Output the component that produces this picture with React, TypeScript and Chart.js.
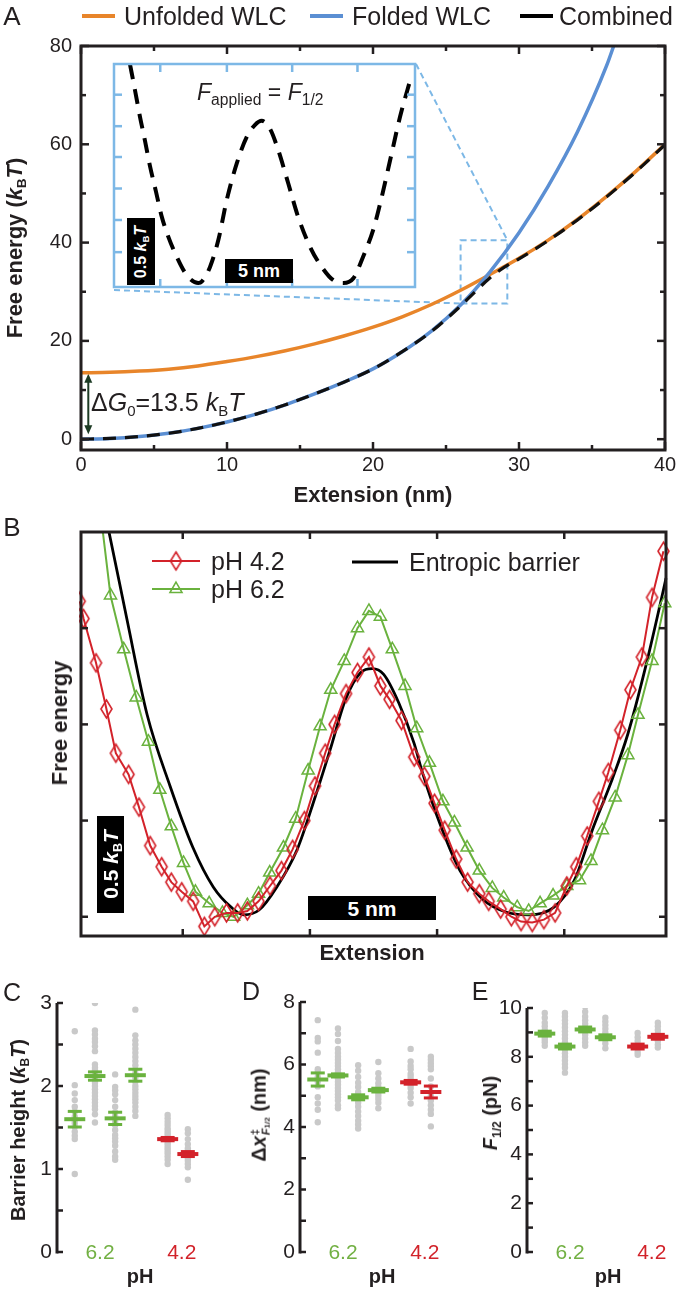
import React, { useEffect, useRef } from "react";
import { Chart, registerables } from "chart.js";
Chart.register(...registerables);

const FONT = "'Liberation Sans', Arial, Helvetica, sans-serif";
const INK = "#231f20";
const ORANGE = "#E8852A";
const BLUE = "#5B8FD3";
const LIGHTBLUE = "#7DB8E6";
const GREEN = "#6AB23E";
const RED = "#D3222A";
const GREEN_TXT = "#72B043";
const RED_TXT = "#D2232A";
const GREY = "#C9C9C9";

// ---------------- Panel A data ----------------
const foldedExt = [0, 2, 4, 6, 8, 10, 12, 14, 16, 18, 20, 22, 24, 26, 28, 30, 32, 34, 36, 36.6];
const foldedG = [0, 0.15, 0.55, 1.2, 2.2, 3.5, 5.1, 7.0, 9.2, 11.6, 14.3, 17.8, 22.0, 27.3, 34.0, 42.0, 51.5, 62.5, 76.0, 81.0];
const unfoldedExt = [0, 2, 4, 6, 8, 10, 12, 14, 16, 18, 20, 22, 24, 26, 28, 30, 32, 34, 36, 38, 40];
const unfoldedG = [13.5, 13.6, 13.85, 14.25, 14.9, 15.8, 16.8, 18.0, 19.4, 21.0, 22.8, 24.9, 27.4, 30.3, 33.5, 36.8, 40.5, 44.7, 49.4, 54.5, 60.0];
const combinedExt = [0, 2, 4, 6, 8, 10, 12, 14, 16, 18, 20, 22, 24, 26, 27, 28, 29, 30, 32, 34, 36, 38, 40];
const combinedG = [0, 0.15, 0.55, 1.2, 2.2, 3.5, 5.1, 7.0, 9.2, 11.6, 14.3, 17.8, 21.9, 27.1, 30.0, 32.8, 35.0, 36.7, 40.4, 44.6, 49.3, 54.4, 59.9];
const aXTicks = [0, 10, 20, 30, 40];
const aXMinor = [5, 15, 25, 35];
const aYTicks = [0, 20, 40, 60, 80];
const aYMinor = [10, 30, 50, 70];
const deltaG0 = 13.5;
const zoomBoxExt = [26, 29.2];
const zoomBoxG = [27.6, 40.5];

// inset (F_applied = F_1/2)
const insetExt = [1.18, 1.54, 1.91, 2.28, 2.65, 3.09, 3.51, 3.99, 4.61, 5.34, 6.2, 6.45, 7.06, 7.67, 8.29, 9.02, 9.76, 10.37, 10.86, 11.47, 12.08, 12.82, 13.55, 14.41, 15.27, 16.13, 16.86, 17.6, 18.33, 19.07, 19.68, 20.42, 21.03, 21.85];
const insetG = [1.66, 1.47, 1.27, 1.09, 0.9, 0.71, 0.525, 0.376, 0.226, 0.09, 0.03, 0.04, 0.15, 0.35, 0.65, 0.92, 1.12, 1.21, 1.24, 1.18, 1.02, 0.77, 0.52, 0.3, 0.15, 0.05, 0.03, 0.065, 0.23, 0.43, 0.67, 1.0, 1.27, 1.57];
const insetXTicks = [3.4, 8.3, 13.1, 17.9];
const insetYTicks = [0.26, 0.5, 0.735, 0.97, 1.2, 1.435];

// ---------------- Panel B data ----------------
const barrierExt = [2.0, 2.1, 2.8, 3.6, 4.5, 5.4, 6.2, 6.9, 7.4, 8.0, 8.7, 9.5, 10.2, 10.8, 11.4, 12.0, 12.45, 12.9, 13.5, 14.1, 14.4, 15.15, 15.9, 16.8, 17.7, 18.6, 19.6, 20.4, 21.1, 21.9, 22.5, 23.2, 23.9, 24.0];
const barrierG = [2.06, 2.0, 1.55, 1.05, 0.68, 0.36, 0.155, 0.05, 0.01, 0.035, 0.155, 0.35, 0.62, 0.87, 1.13, 1.27, 1.29, 1.26, 1.11, 0.9, 0.76, 0.47, 0.24, 0.09, 0.025, 0.01, 0.05, 0.19, 0.45, 0.72, 0.95, 1.3, 1.7, 1.76];
const ph62Ext = [1.75, 2.16, 2.68, 3.17, 3.65, 4.1, 4.55, 5.03, 5.5, 6.04, 6.56, 7.0, 7.54, 7.98, 8.42, 8.96, 9.44, 9.93, 10.4, 10.82, 11.35, 11.87, 12.32, 12.77, 13.24, 13.74, 14.2, 14.7, 15.23, 15.68, 16.18, 16.66, 17.17, 17.62, 18.15, 18.6, 19.05, 19.56, 20.1, 20.6, 21.05, 21.5, 22.0, 22.5, 22.9, 23.45, 23.95];
const ph62G = [2.12, 1.67, 1.39, 1.14, 0.91, 0.66, 0.47, 0.28, 0.13, 0.07, 0.02, 0.0, 0.06, 0.12, 0.23, 0.36, 0.51, 0.76, 0.99, 1.18, 1.33, 1.5, 1.59, 1.56, 1.39, 1.2, 0.98, 0.8, 0.6, 0.49, 0.36, 0.24, 0.15, 0.1, 0.05, 0.03, 0.07, 0.11, 0.16, 0.19, 0.29, 0.45, 0.62, 0.84, 1.05, 1.33, 1.63];
const ph42Ext = [0.95, 1.1, 1.59, 2.0, 2.37, 2.87, 3.28, 3.72, 4.17, 4.55, 4.96, 5.41, 5.85, 6.26, 6.72, 7.16, 7.54, 7.98, 8.43, 8.88, 9.32, 9.78, 10.2, 10.6, 10.97, 11.42, 11.87, 12.32, 12.77, 13.13, 13.6, 14.1, 14.5, 14.9, 15.3, 15.75, 16.2, 16.66, 17.03, 17.5, 17.92, 18.3, 18.74, 19.2, 19.64, 20.1, 20.47, 20.9, 21.36, 21.73, 22.2, 22.6, 23.05, 23.45, 23.9];
const ph42G = [1.64, 1.55, 1.32, 1.08, 0.85, 0.74, 0.57, 0.37, 0.26, 0.18, 0.13, 0.08, -0.05, 0.0, 0.02, 0.02, 0.03, 0.08, 0.16, 0.24, 0.35, 0.5, 0.68, 0.85, 1.0, 1.16, 1.27, 1.35, 1.2, 1.13, 1.02, 0.83, 0.73, 0.59, 0.45, 0.3, 0.18, 0.12, 0.08, 0.04, 0.0, -0.025, -0.03, -0.015, 0.02, 0.16, 0.26, 0.42, 0.6, 0.75, 0.97, 1.18, 1.35, 1.66, 1.9];
const bXTicks = [5, 10, 15, 20];
const bYTicks = [0, 0.5, 1.0, 1.5];

// ---------------- Panels C, D, E data ----------------
const groupX = [1, 2, 3, 4, 5.6, 6.6];
const groupPH = ["6.2", "6.2", "6.2", "6.2", "4.2", "4.2"];
const pHLabels = ["6.2", "4.2"];
const pHLabelX = [2.25, 6.3];

const cMeans = [1.6, 2.12, 1.61, 2.13, 1.36, 1.18];
const cSems = [0.094, 0.05, 0.074, 0.072, 0.02, 0.03];
const cDots = [
  [2.66, 2.01, 1.91, 1.83, 1.75, 1.69, 1.63, 1.58, 1.55, 1.51, 1.45, 1.4, 1.36, 0.94],
  [3.0, 2.67, 2.62, 2.57, 2.53, 2.48, 2.42, 2.26, 2.22, 2.19, 2.16, 2.12, 2.08, 2.04, 2.0, 1.96, 1.92, 1.88, 1.84, 1.8, 1.76, 1.72, 1.66, 1.56],
  [2.14, 1.99, 1.95, 1.9, 1.83, 1.75, 1.68, 1.64, 1.57, 1.53, 1.47, 1.41, 1.37, 1.33, 1.28, 1.21, 1.15, 1.11],
  [2.92, 2.61, 2.55, 2.5, 2.45, 2.4, 2.35, 2.3, 2.25, 2.2, 2.15, 2.1, 2.05, 2.0, 1.96, 1.92, 1.88, 1.84, 1.8, 1.75, 1.7, 1.64],
  [1.65, 1.61, 1.57, 1.53, 1.49, 1.46, 1.43, 1.4, 1.37, 1.34, 1.31, 1.28, 1.25, 1.22, 1.19, 1.15, 1.11, 1.06],
  [1.48, 1.43, 1.36, 1.3, 1.25, 1.22, 1.19, 1.16, 1.13, 1.1, 1.06, 1.02, 0.87],
];
const cYTicks = [0, 1, 2, 3];
const cYMinor = [0.5, 1.5, 2.5];
const cRef = [1.29, 1.29];

const dMeans = [5.52, 5.65, 4.95, 5.18, 5.43, 5.12];
const dSems = [0.21, 0.05, 0.08, 0.06, 0.06, 0.19];
const dDots = [
  [7.42, 6.85, 6.74, 6.38, 5.85, 5.75, 5.6, 5.45, 5.3, 4.95, 4.75, 4.55, 4.15],
  [7.15, 6.98, 6.75, 6.5, 6.37, 6.25, 6.15, 6.05, 5.95, 5.85, 5.75, 5.55, 5.45, 5.35, 5.25, 5.15, 5.05, 4.95, 4.85, 4.7, 4.6],
  [5.98, 5.8, 5.6, 5.42, 5.28, 5.12, 5.0, 4.9, 4.78, 4.65, 4.5, 4.35, 4.2, 4.08, 3.95],
  [6.08, 5.72, 5.55, 5.4, 5.28, 5.1, 5.0, 4.9, 4.78, 4.6],
  [6.5, 6.1, 5.95, 5.85, 5.7, 5.6, 5.5, 5.35, 5.25, 5.1, 4.95, 4.75],
  [6.25, 6.15, 6.05, 5.95, 5.85, 5.55, 5.3, 5.0, 4.85, 4.7, 4.55, 4.42, 4.02],
];
const dYTicks = [0, 2, 4, 6, 8];
const dYMinor = [1, 3, 5, 7];
const dRef = [2.0, 3.5];

const eMeans = [8.95, 8.42, 9.12, 8.8, 8.42, 8.82];
const eSems = [0.1, 0.1, 0.1, 0.1, 0.1, 0.1];
const eDots = [
  [9.8, 9.6, 9.4, 9.25, 9.1, 9.0, 8.9, 8.8, 8.7, 8.6, 8.45],
  [9.8, 9.65, 9.5, 9.35, 9.2, 9.05, 8.9, 8.75, 8.6, 8.45, 8.3, 8.15, 8.0, 7.85, 7.7, 7.55, 7.35],
  [10.3, 10.05, 9.85, 9.65, 9.5, 9.35, 9.2, 9.05, 8.9, 8.75, 8.6, 8.45],
  [9.6, 9.45, 9.3, 9.15, 9.0, 8.85, 8.7, 8.55, 8.35],
  [8.98, 8.8, 8.65, 8.5, 8.35, 8.2, 8.08],
  [9.4, 9.25, 9.1, 8.95, 8.8, 8.65, 8.5, 8.38],
];
const eYTicks = [0, 2, 4, 6, 8, 10];
const eYMinor = [1, 3, 5, 7, 9];
const eRef = [7.6, 7.6];

// ---------------- helpers ----------------
const pts = (xs: number[], ys: number[]) => xs.map((x, i) => ({ x, y: ys[i] }));
const fitW = (w: number) => (s: any) => { s.width = w; s.paddingTop = 0; s.paddingBottom = 0; };
const fitH = (h: number) => (s: any) => { s.height = h; s.paddingLeft = 0; s.paddingRight = 0; };
const setTicks = (vals: number[]) => (s: any) => { s.ticks = vals.map((v) => ({ value: v })); };

const frameTicks = {
  id: "frameTicks",
  afterDraw(chart: any, _a: any, o: any) {
    const { ctx, chartArea: a, scales } = chart;
    ctx.save();
    ctx.setLineDash([]);
    ctx.lineCap = "butt";
    (o.marks || []).forEach((m: any) => {
      const sc = scales[m.axis];
      ctx.strokeStyle = o.tickColor;
      ctx.lineWidth = o.tickWidth;
      m.values.forEach((v: number) => {
        const p = sc.getPixelForValue(v);
        m.sides.forEach((s: string) => {
          ctx.beginPath();
          if (s === "bottom") { ctx.moveTo(p, a.bottom); ctx.lineTo(p, a.bottom - m.len); }
          if (s === "top") { ctx.moveTo(p, a.top); ctx.lineTo(p, a.top + m.len); }
          if (s === "left") { ctx.moveTo(a.left, p); ctx.lineTo(a.left + m.len, p); }
          if (s === "right") { ctx.moveTo(a.right, p); ctx.lineTo(a.right - m.len, p); }
          ctx.stroke();
        });
      });
    });
    ctx.strokeStyle = o.frameColor;
    ctx.lineWidth = o.frameWidth;
    if (o.frame === "box") ctx.strokeRect(a.left, a.top, a.right - a.left, a.bottom - a.top);
    if (o.frame === "left") {
      ctx.beginPath();
      ctx.moveTo(a.left, a.top);
      ctx.lineTo(a.left, a.bottom + o.frameWidth / 2);
      ctx.stroke();
    }
    // category labels sitting on the baseline (pH panels)
    if (o.cats) {
      ctx.font = `${o.cats.size}px ${FONT}`;
      ctx.textAlign = "center";
      ctx.textBaseline = "middle";
      o.cats.labels.forEach((lab: string, i: number) => {
        ctx.fillStyle = o.cats.colors[i];
        ctx.fillText(lab, scales.x.getPixelForValue(o.cats.at[i]), a.bottom + 1);
      });
    }
    ctx.restore();
  },
};

// inset box position on page (the A canvas sits at 0,0)
const INSET = { left: 114, top: 64, right: 415, bottom: 287 };

const annotA = {
  id: "annotA",
  beforeDatasetsDraw(chart: any) {
    const { ctx, scales } = chart;
    const x = scales.x, y = scales.y;
    const x0 = x.getPixelForValue(zoomBoxExt[0]);
    const x1 = x.getPixelForValue(zoomBoxExt[1]);
    const y0 = y.getPixelForValue(zoomBoxG[0]);
    const y1 = y.getPixelForValue(zoomBoxG[1]);
    ctx.save();
    ctx.strokeStyle = LIGHTBLUE;
    ctx.lineWidth = 2;
    ctx.setLineDash([6, 4]);
    ctx.strokeRect(x0, y1, x1 - x0, y0 - y1);
    ctx.beginPath();
    ctx.moveTo(INSET.right + 1, INSET.top);
    ctx.lineTo(x1, y1);
    ctx.stroke();
    ctx.beginPath();
    ctx.moveTo(INSET.left, INSET.bottom + 3);
    ctx.lineTo(x0, y0);
    ctx.stroke();
    // double-headed arrow for deltaG0
    ctx.setLineDash([]);
    const ax = x.getPixelForValue(0.5);
    const ayB = y.getPixelForValue(1.0);
    const ayT = y.getPixelForValue(deltaG0 - 0.2);
    ctx.strokeStyle = "#1d3b24";
    ctx.fillStyle = "#1d3b24";
    ctx.lineWidth = 2;
    ctx.beginPath();
    ctx.moveTo(ax, ayB - 6);
    ctx.lineTo(ax, ayT + 6);
    ctx.stroke();
    ctx.beginPath();
    ctx.moveTo(ax, ayT); ctx.lineTo(ax - 4, ayT + 9); ctx.lineTo(ax + 4, ayT + 9); ctx.closePath(); ctx.fill();
    ctx.beginPath();
    ctx.moveTo(ax, ayB); ctx.lineTo(ax - 4, ayB - 9); ctx.lineTo(ax + 4, ayB - 9); ctx.closePath(); ctx.fill();
    ctx.restore();
  },
};

function makeDiamond(color: string, w: number, h: number, lw: number) {
  const c = document.createElement("canvas");
  c.width = Math.ceil(w + lw * 2 + 2);
  c.height = Math.ceil(h + lw * 2 + 2);
  const g = c.getContext("2d")!;
  g.strokeStyle = color;
  g.lineWidth = lw;
  const cx = c.width / 2, cy = c.height / 2;
  g.beginPath();
  g.moveTo(cx, cy - h / 2);
  g.lineTo(cx + w / 2, cy);
  g.lineTo(cx, cy + h / 2);
  g.lineTo(cx - w / 2, cy);
  g.closePath();
  g.stroke();
  return c;
}

const B_OFF = { left: 60, top: 515 };

function legendBPlugin(diamond: HTMLCanvasElement) {
  return {
    id: "legendB",
    afterDraw(chart: any) {
      const ctx = chart.ctx;
      ctx.save();
      ctx.setLineDash([]);
      const lx0 = 152 - B_OFF.left, lx1 = 200 - B_OFF.left, mx = 176 - B_OFF.left;
      let yy = 561 - B_OFF.top;
      ctx.strokeStyle = RED; ctx.lineWidth = 2;
      ctx.beginPath(); ctx.moveTo(lx0, yy); ctx.lineTo(lx1, yy); ctx.stroke();
      ctx.drawImage(diamond, mx - diamond.width / 2, yy - diamond.height / 2);
      yy = 589 - B_OFF.top;
      ctx.strokeStyle = GREEN;
      ctx.beginPath(); ctx.moveTo(lx0, yy); ctx.lineTo(lx1, yy); ctx.stroke();
      const r = 7;
      ctx.lineWidth = 1.5;
      ctx.beginPath();
      ctx.moveTo(mx, yy - r);
      ctx.lineTo(mx + Math.sin((2 * Math.PI) / 3) * r, yy + r / 2);
      ctx.lineTo(mx - Math.sin((2 * Math.PI) / 3) * r, yy + r / 2);
      ctx.closePath();
      ctx.stroke();
      yy = 562 - B_OFF.top;
      ctx.strokeStyle = "#000"; ctx.lineWidth = 3;
      ctx.beginPath(); ctx.moveTo(352 - B_OFF.left, yy); ctx.lineTo(398 - B_OFF.left, yy); ctx.stroke();
      ctx.restore();
    },
  };
}

function pHConfig(p: any) {
  const isG = groupPH.map((v) => v === "6.2");
  const dots = p.dots.flatMap((col: number[], i: number) => col.map((v) => ({ x: groupX[i], y: v })));
  const bars = (want: boolean) =>
    groupX.flatMap((x, i) =>
      isG[i] === want
        ? [{ x, y: p.means[i] - p.sems[i] }, { x, y: p.means[i] + p.sems[i] }, { x, y: null }]
        : []
    );
  const caps = groupX.flatMap((x, i) => [{ x, y: p.means[i] - p.sems[i] }, { x, y: p.means[i] + p.sems[i] }]);
  const capColors = groupX.flatMap((_x, i) => [isG[i] ? GREEN : RED, isG[i] ? GREEN : RED]);
  const meanColors = groupX.map((_x, i) => (isG[i] ? GREEN : RED));
  return {
    type: "scatter",
    data: {
      datasets: [
        { data: groupX.map((x, i) => ({ x, y: p.means[i] })), pointStyle: "line", pointRadius: 10.5, pointBorderWidth: 4, pointBorderColor: meanColors, showLine: false, order: 0 },
        { data: caps, pointStyle: "line", pointRadius: 7, pointBorderWidth: 3, pointBorderColor: capColors, showLine: false, order: 1 },
        { data: bars(true), showLine: true, borderColor: GREEN, borderWidth: 3, pointRadius: 0, spanGaps: false, order: 2 },
        { data: bars(false), showLine: true, borderColor: RED, borderWidth: 3, pointRadius: 0, spanGaps: false, order: 2 },
        { data: [{ x: p.refGX[0], y: p.ref[0] }, { x: p.refGX[1], y: p.ref[0] }], showLine: true, borderColor: GREEN, borderWidth: 2, borderDash: p.dashG, pointRadius: 0, order: 5 },
        { data: [{ x: p.refRX[0], y: p.ref[1] }, { x: p.refRX[1], y: p.ref[1] }], showLine: true, borderColor: RED, borderWidth: 2, borderDash: p.dashR, pointRadius: 0, order: 5 },
        { data: dots, pointRadius: 3.2, pointBackgroundColor: GREY, pointBorderWidth: 0, showLine: false, order: 10 },
      ],
    },
    options: {
      animation: false,
      responsive: false,
      events: [],
      layout: { padding: { left: 0, top: p.padTop, right: p.padRight, bottom: 0 }, autoPadding: false },
      plugins: {
        legend: { display: false },
        tooltip: { enabled: false },
        frameTicks: {
          frame: "left", frameColor: INK, frameWidth: 3, tickColor: INK, tickWidth: 2.5,
          marks: [{ axis: "y", values: p.yMajor.concat(p.yMinor), len: 6, sides: ["left"] }],
          cats: { labels: pHLabels, at: pHLabelX, colors: [GREEN_TXT, RED_TXT], size: 21 },
        },
      },
      scales: {
        x: {
          type: "linear", min: 0.12, max: 7.4,
          ticks: { display: false },
          grid: { display: false, drawTicks: false },
          border: { display: false },
          afterFit: fitH(39),
        },
        y: {
          type: "linear", min: 0, max: p.yMax,
          afterBuildTicks: setTicks(p.yMajor),
          ticks: { autoSkip: false, padding: 5, color: INK, font: { family: FONT, size: 21 }, callback: (v: any) => String(v) },
          grid: { display: false, drawTicks: false },
          border: { display: false },
          afterFit: fitW(p.yWidth),
        },
      },
    },
    plugins: [frameTicks],
  };
}

// ---------------- overlay components ----------------
const Sub = ({ children, s = 0.6, dy = 0.32 }: any) => (
  <span style={{ fontSize: `${s}em`, position: "relative", top: `${dy}em` }}>{children}</span>
);
const KBT = () => (
  <>
    <i>k</i>
    <Sub>B</Sub>
    <i>T</i>
  </>
);

function Txt({ x, y, size, bold, rot, left, color, children }: any) {
  return (
    <div
      style={{
        position: "absolute", left: x, top: y, fontSize: size, fontWeight: bold ? 700 : 400,
        lineHeight: 1, whiteSpace: "nowrap", color: color || INK,
        transform: `translate(${left ? "0" : "-50%"}, -50%)${rot ? " rotate(-90deg)" : ""}`,
      }}
    >
      {children}
    </div>
  );
}

function ScaleBar({ x, y, w, h, rot, size, children }: any) {
  return (
    <div
      style={{
        position: "absolute", left: x, top: y, width: w, height: h, background: "#000", color: "#fff",
        display: "flex", alignItems: "center", justifyContent: "center", fontWeight: 700, fontSize: size, lineHeight: 1,
      }}
    >
      <span style={{ display: "inline-block", whiteSpace: "nowrap", transform: rot ? "rotate(-90deg)" : undefined }}>{children}</span>
    </div>
  );
}

function Swatch({ x, y, w, color }: any) {
  return <div style={{ position: "absolute", left: x, top: y - 2, width: w, height: 4, background: color }} />;
}

export default function App() {
  const aRef = useRef<HTMLCanvasElement>(null);
  const insetRef = useRef<HTMLCanvasElement>(null);
  const bRef = useRef<HTMLCanvasElement>(null);
  const cRef = useRef<HTMLCanvasElement>(null);
  const dRef = useRef<HTMLCanvasElement>(null);
  const eRef = useRef<HTMLCanvasElement>(null);

  useEffect(() => {
    const charts: any[] = [];
    const tickFont = { family: FONT, size: 20 };

    // ---- Panel A ----
    charts.push(
      new Chart(aRef.current as any, {
        type: "scatter",
        data: {
          datasets: [
            { data: pts(combinedExt, combinedG), showLine: true, borderColor: "#111", borderWidth: 3.2, borderDash: [13, 9], pointRadius: 0, cubicInterpolationMode: "monotone", order: 0 },
            { data: pts(foldedExt, foldedG), showLine: true, borderColor: BLUE, borderWidth: 3.5, pointRadius: 0, cubicInterpolationMode: "monotone", order: 1 },
            { data: pts(unfoldedExt, unfoldedG), showLine: true, borderColor: ORANGE, borderWidth: 3.5, pointRadius: 0, cubicInterpolationMode: "monotone", order: 2 },
          ],
        },
        options: {
          animation: false,
          responsive: false,
          events: [],
          layout: { padding: { left: 0, top: 46, right: 12, bottom: 30 }, autoPadding: false },
          plugins: {
            legend: { display: false },
            tooltip: { enabled: false },
            frameTicks: {
              frame: "box", frameColor: INK, frameWidth: 3, tickColor: INK, tickWidth: 2.5,
              marks: [
                { axis: "x", values: aXTicks, len: 8, sides: ["bottom", "top"] },
                { axis: "x", values: aXMinor, len: 5, sides: ["bottom", "top"] },
                { axis: "y", values: aYTicks, len: 8, sides: ["left", "right"] },
                { axis: "y", values: aYMinor, len: 5, sides: ["left", "right"] },
              ],
            },
          },
          scales: {
            x: {
              type: "linear", min: 0, max: 40,
              afterBuildTicks: setTicks(aXTicks),
              ticks: { autoSkip: false, maxRotation: 0, padding: 3, color: INK, font: tickFont },
              grid: { display: false, drawTicks: false },
              border: { display: false },
              afterFit: fitH(40),
            },
            y: {
              type: "linear", min: -2.2, max: 80,
              afterBuildTicks: setTicks(aYTicks),
              ticks: { autoSkip: false, padding: 9, color: INK, font: tickFont },
              grid: { display: false, drawTicks: false },
              border: { display: false },
              afterFit: fitW(81),
            },
          },
        } as any,
        plugins: [frameTicks, annotA] as any,
      } as any)
    );

    // ---- Inset ----
    charts.push(
      new Chart(insetRef.current as any, {
        type: "scatter",
        data: {
          datasets: [
            { data: pts(insetExt, insetG), showLine: true, borderColor: "#000", borderWidth: 4, borderDash: [15, 10], pointRadius: 0, cubicInterpolationMode: "monotone", clip: false },
          ],
        },
        options: {
          animation: false,
          responsive: false,
          events: [],
          layout: { padding: 2, autoPadding: false },
          plugins: {
            legend: { display: false },
            tooltip: { enabled: false },
            frameTicks: {
              frame: "box", frameColor: LIGHTBLUE, frameWidth: 2.5, tickColor: LIGHTBLUE, tickWidth: 2.5,
              marks: [
                { axis: "x", values: insetXTicks, len: 8, sides: ["bottom", "top"] },
                { axis: "y", values: insetYTicks, len: 8, sides: ["left", "right"] },
              ],
            },
          },
          scales: {
            x: { type: "linear", display: false, min: 0, max: 22.13 },
            y: { type: "linear", display: false, min: 0, max: 1.664 },
          },
        } as any,
        plugins: [frameTicks] as any,
      } as any)
    );

    // ---- Panel B ----
    const diamond = makeDiamond(RED, 11, 18, 1.6);
    const clipB = { left: 2, top: 0, right: 10, bottom: 10 };
    charts.push(
      new Chart(bRef.current as any, {
        type: "scatter",
        data: {
          datasets: [
            { label: "pH 4.2", data: pts(ph42Ext, ph42G), showLine: true, borderColor: RED, borderWidth: 2, pointStyle: diamond, pointRadius: 6, tension: 0, clip: clipB, order: 0 },
            { label: "pH 6.2", data: pts(ph62Ext, ph62G), showLine: true, borderColor: GREEN, borderWidth: 2, pointStyle: "triangle", pointRadius: 7, pointBorderWidth: 1.5, pointBorderColor: GREEN, pointBackgroundColor: "rgba(0,0,0,0)", tension: 0, clip: clipB, order: 1 },
            { label: "Entropic barrier", data: pts(barrierExt, barrierG), showLine: true, borderColor: "#000", borderWidth: 2.8, pointRadius: 0, cubicInterpolationMode: "monotone", clip: clipB, order: 2 },
          ],
        },
        options: {
          animation: false,
          responsive: false,
          events: [],
          layout: { padding: { left: 21, top: 17, right: 11, bottom: 19 }, autoPadding: false },
          plugins: {
            legend: { display: false },
            tooltip: { enabled: false },
            frameTicks: {
              frame: "box", frameColor: INK, frameWidth: 3, tickColor: INK, tickWidth: 2.5,
              marks: [
                { axis: "x", values: bXTicks, len: 7, sides: ["bottom", "top"] },
                { axis: "y", values: bYTicks, len: 7, sides: ["left", "right"] },
              ],
            },
          },
          scales: {
            x: { type: "linear", display: false, min: 1, max: 24 },
            y: { type: "linear", display: false, min: -0.1, max: 2.0 },
          },
        } as any,
        plugins: [frameTicks, legendBPlugin(diamond)] as any,
      } as any)
    );

    // ---- Panels C, D, E ----
    charts.push(
      new Chart(cRef.current as any, pHConfig({
        means: cMeans, sems: cSems, dots: cDots, yMax: 3, yMajor: cYTicks, yMinor: cYMinor, ref: cRef,
        refGX: [0.3, 5.05], refRX: [5.2, 7.2], dashG: [9, 6], dashR: [4, 4], yWidth: 57, padTop: 18, padRight: 11,
      }) as any)
    );
    charts.push(
      new Chart(dRef.current as any, pHConfig({
        means: dMeans, sems: dSems, dots: dDots, yMax: 8, yMajor: dYTicks, yMinor: dYMinor, ref: dRef,
        refGX: [0.45, 4.7], refRX: [4.9, 6.95], dashG: [9, 9], dashR: [9, 8], yWidth: 60, padTop: 17, padRight: 10,
      }) as any)
    );
    charts.push(
      new Chart(eRef.current as any, pHConfig({
        means: eMeans, sems: eSems, dots: eDots, yMax: 10, yMajor: eYTicks, yMinor: eYMinor, ref: eRef,
        refGX: [0.37, 4.4], refRX: [4.95, 7.1], dashG: [8, 9], dashR: [6, 6], yWidth: 62, padTop: 23, padRight: 3,
      }) as any)
    );

    return () => charts.forEach((c) => c.destroy());
  }, []);

  const cv = (l: number, t: number): any => ({ position: "absolute", left: l, top: t });

  return (
    <div style={{ position: "absolute", left: 0, top: 0, width: 677, height: 1291, background: "#fff", fontFamily: FONT, color: INK, overflow: "hidden" }}>
      <canvas ref={aRef} width={677} height={520} style={cv(0, 0)} />
      <canvas ref={insetRef} width={305} height={227} style={cv(112, 62)} />
      <canvas ref={bRef} width={617} height={440} style={cv(B_OFF.left, B_OFF.top)} />
      <canvas ref={cRef} width={215} height={306} style={cv(0, 985)} />
      <canvas ref={dRef} width={217} height={306} style={cv(240, 985)} />
      <canvas ref={eRef} width={212} height={306} style={cv(465, 985)} />

      {/* Panel A */}
      <Txt x={12} y={16} size={26}>A</Txt>
      <Swatch x={82} y={16} w={33} color={ORANGE} />
      <Txt x={124} y={16} size={25} left>Unfolded WLC</Txt>
      <Swatch x={310} y={16} w={33} color={BLUE} />
      <Txt x={352} y={16} size={25} left>Folded WLC</Txt>
      <Swatch x={520} y={16} w={33} color="#000" />
      <Txt x={559} y={16} size={25} left>Combined</Txt>
      <Txt x={15} y={248} size={22} bold rot>
        Free energy (<KBT />)
      </Txt>
      <Txt x={373} y={495} size={22} bold>Extension (nm)</Txt>
      <Txt x={91} y={402} size={25} left>
        Δ<i>G</i><Sub>0</Sub>=13.5 <KBT />
      </Txt>
      <Txt x={197} y={92} size={23} left>
        <i>F</i><Sub s={0.68}>applied</Sub> = <i>F</i><Sub s={0.68}>1/2</Sub>
      </Txt>
      <ScaleBar x={127} y={218} w={28} h={67} rot size={16}>
        0.5 <KBT />
      </ScaleBar>
      <ScaleBar x={225} y={259} w={68} h={24} size={18}>5 nm</ScaleBar>

      {/* Panel B */}
      <Txt x={12} y={527} size={26}>B</Txt>
      <Txt x={211} y={561} size={25} left>pH 4.2</Txt>
      <Txt x={211} y={589} size={25} left>pH 6.2</Txt>
      <Txt x={409} y={562} size={25} left>Entropic barrier</Txt>
      <Txt x={60} y={723} size={22} bold rot>Free energy</Txt>
      <Txt x={372} y={953} size={22} bold>Extension</Txt>
      <ScaleBar x={97} y={816} w={27} h={97} rot size={21}>
        0.5 <KBT />
      </ScaleBar>
      <ScaleBar x={308} y={896} w={128} h={24} size={21}>5 nm</ScaleBar>

      {/* Panel C */}
      <Txt x={12} y={992} size={25}>C</Txt>
      <Txt x={18} y={1130} size={20} bold rot>
        Barrier height (<KBT />)
      </Txt>
      <Txt x={140} y={1276} size={20} bold>pH</Txt>

      {/* Panel D */}
      <Txt x={251} y={991} size={25}>D</Txt>
      <Txt x={260} y={1115} size={20} bold rot>
        Δ<i>x</i>
        <span style={{ display: "inline-flex", flexDirection: "column", fontSize: 11, lineHeight: 1, verticalAlign: "middle", marginLeft: 1 }}>
          <span>‡</span>
          <span>
            <i>F</i>
            <span style={{ fontSize: 8 }}>1/2</span>
          </span>
        </span>{" "}
        (nm)
      </Txt>
      <Txt x={382} y={1276} size={20} bold>pH</Txt>

      {/* Panel E */}
      <Txt x={480} y={991} size={25}>E</Txt>
      <Txt x={490} y={1113} size={20} bold rot>
        <i>F</i>
        <Sub>1/2</Sub> (pN)
      </Txt>
      <Txt x={608} y={1276} size={20} bold>pH</Txt>
    </div>
  );
}
